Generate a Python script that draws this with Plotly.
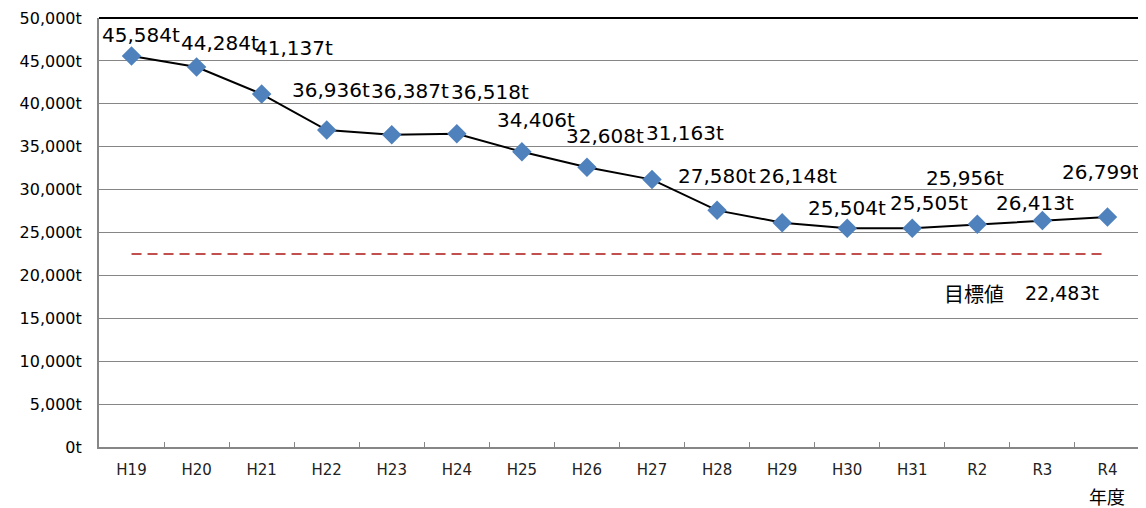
import plotly.graph_objects as go

years = ["H19", "H20", "H21", "H22", "H23", "H24", "H25", "H26",
         "H27", "H28", "H29", "H30", "H31", "R2", "R3", "R4"]
amounts = [45584, 44284, 41137, 36936, 36387, 36518, 34406, 32608,
           31163, 27580, 26148, 25504, 25505, 25956, 26413, 26799]
target = 22483
target_label = "目標値"
x_title = "年度"

# label offsets (px) copied from the original layout, one per point
label_dx = [9, 23, 32, 4, 18, 33, 14, 18, 33, 0, 16, 0, 17, -12, -7, -6]
label_dy = [21, 24, 46, 40, 44, 42, 32, 31, 47, 34, 47, 20, 25, 46, 17, 45]

font_num = "DejaVu Sans, sans-serif"
font_jp = "Noto Sans CJK JP, sans-serif"

fig = go.Figure()

fig.add_trace(go.Scatter(
    x=years, y=amounts, mode="lines+markers",
    line=dict(color="black", width=2),
    marker=dict(symbol="diamond", size=15, color="#4F81BD"),
    showlegend=False))

fig.add_trace(go.Scatter(
    x=[years[0], years[-1]], y=[target, target], mode="lines",
    line=dict(color="#C0504D", width=2, dash="10px,6px"),
    hoverinfo="skip", showlegend=False))

for yr, v, dx, dy in zip(years, amounts, label_dx, label_dy):
    fig.add_annotation(x=yr, y=v, text=f"{v:,}t", showarrow=False,
                       xshift=dx, yshift=dy,
                       font=dict(size=20, color="black", family=font_num))

fig.add_annotation(x="H31", y=target, text=target_label, showarrow=False,
                   xshift=62, yshift=-39,
                   font=dict(size=20, color="black", family=font_jp))
fig.add_annotation(x="R3", y=target, text=f"{target:,}t", showarrow=False,
                   xshift=20, yshift=-39,
                   font=dict(size=19, color="black", family=font_num))
fig.add_annotation(x=years[-1], y=0, text=x_title, showarrow=False,
                   yshift=-49,
                   font=dict(size=18, color="black", family=font_jp))

# black frame on top and right like the original
fig.add_shape(type="line", xref="paper", yref="paper", x0=0, x1=1, y0=1, y1=1,
              line=dict(color="black", width=2))
fig.add_shape(type="line", xref="paper", yref="paper", x0=1, x1=1, y0=0, y1=1,
              line=dict(color="black", width=2))

fig.update_xaxes(type="category", categoryorder="array", categoryarray=years,
                 range=[-0.5, 15.5], tickson="boundaries", automargin=False,
                 ticks="inside", ticklen=5, tickcolor="#868686",
                 showline=True, linecolor="#868686", linewidth=2,
                 showgrid=False, ticklabelstandoff=8,
                 tickfont=dict(size=15, color="#222", family=font_num))
fig.update_yaxes(range=[0, 50000], dtick=5000, tickformat=",", ticksuffix="t",
                 automargin=False,
                 showgrid=True, gridcolor="#868686", gridwidth=1,
                 showline=True, linecolor="#868686", linewidth=2,
                 ticks="", ticklabelstandoff=12,
                 tickfont=dict(size=16, color="black", family=font_num))

# the page body adds an 8px margin, so the figure is a bit smaller
fig.update_layout(width=1138, height=500,
                  margin=dict(l=91, r=6, t=10, b=61),
                  plot_bgcolor="white", paper_bgcolor="white",
                  hovermode=False)

fig.write_html("out.html")
